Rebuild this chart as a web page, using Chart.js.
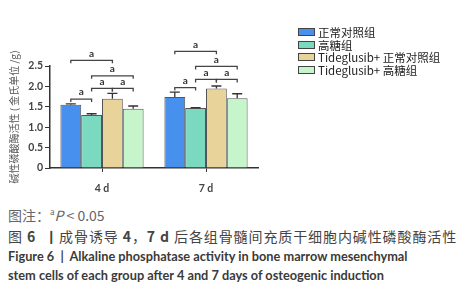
<!DOCTYPE html>
<html>
<head>
<meta charset="utf-8">
<script src="https://cdn.jsdelivr.net/npm/chart.js@4"></script>
<style>
    body { margin: 0; width: 467px; height: 300px; background: #fff; position: relative; overflow: hidden; font-family: "Noto Sans CJK SC", "Lato", sans-serif; }
    #wrap { position: absolute; left: 0; top: 0; width: 467px; height: 200px; }
    #legend { position: absolute; left: 298px; top: 26px; font-size: 11.5px; color: #222; }
    .row { height: 12.5px; line-height: 12.5px; display: flex; align-items: center; white-space: nowrap; }
    .box { width: 15px; height: 6px; border: 1.5px solid #444; margin-right: 3px; }
    .cap { position: absolute; left: 8px; white-space: nowrap; }
    .cn { color: #666; font-size: 14px; }
    .cn2 { color: #444; font-size: 14px; letter-spacing: 0.9px; }
    .en { color: #3a3a3a; font-size: 12.75px; font-weight: bold; font-family: "Lato", sans-serif; }
</style>
</head>
<body>
<div id="wrap"><canvas id="almChart" width="467" height="200"></canvas></div>
<div id="legend"></div>
<div class="cap cn" style="top:205px">图注：<sup style="font-size:8px">a</sup><i>P</i> &lt; 0.05</div>
<div class="cap cn2" style="top:226px">图 <b>6</b> &nbsp;<b>丨</b>成骨诱导 <b>4</b>，<b>7 d</b> 后各组骨髓间充质干细胞内碱性磷酸酶活性</div>
<div class="cap en" style="top:248px">Figure 6 &nbsp;| &nbsp;Alkaline phosphatase activity in bone marrow mesenchymal</div>
<div class="cap en" style="top:267px">stem cells of each group after 4 and 7 days of osteogenic induction</div>
<script>
const days = ['4 d', '7 d'];
const groups = ['正常对照组', '高糖组', 'Tideglusib+ 正常对照组', 'Tideglusib+ 高糖组'];
const normalVals = [1.55, 1.74];
const highVals = [1.30, 1.47];
const tideNormalVals = [1.70, 1.95];
const tideHighVals = [1.45, 1.71];
const normalErr = [0.02, 0.12];
const highErr = [0.03, 0.01];
const tideNormalErr = [0.13, 0.06];
const tideHighErr = [0.07, 0.11];
const groupColors = ['#4790ee', '#7bd9c0', '#e8d39b', '#c7f5cb'];

// significance brackets: [day index, group a, group b, height]
const brackets = [
    [0, 0, 1, 1.69], [0, 1, 2, 1.95], [0, 2, 3, 1.95], [0, 1, 3, 2.26], [0, 0, 2, 2.64],
    [1, 0, 1, 1.97], [1, 1, 2, 2.17], [1, 2, 3, 2.17], [1, 1, 3, 2.49], [1, 0, 2, 2.86]
];

const allVals = [normalVals, highVals, tideNormalVals, tideHighVals];
const allErr = [normalErr, highErr, tideNormalErr, tideHighErr];

// legend
const legend = document.getElementById('legend');
groups.forEach((g, i) => {
    const row = document.createElement('div');
    row.className = 'row';
    row.innerHTML = '<span class="box" style="background:' + groupColors[i] + '"></span><span>' + g + '</span>';
    legend.appendChild(row);
});

const markPlugin = {
    id: 'marks',
    afterDatasetsDraw(chart) {
        const c = chart.ctx;
        const y = chart.scales.y;
        c.save();
        // error bars
        c.strokeStyle = '#333';
        c.lineWidth = 1.3;
        allVals.forEach((vals, di) => {
            const meta = chart.getDatasetMeta(di);
            vals.forEach((v, i) => {
                const bar = meta.data[i];
                const top = y.getPixelForValue(v + allErr[di][i]);
                const base = y.getPixelForValue(v);
                c.beginPath();
                c.moveTo(bar.x, base);
                c.lineTo(bar.x, top);
                c.moveTo(bar.x - 5, top);
                c.lineTo(bar.x + 5, top);
                c.stroke();
            });
        });
        // brackets
        c.strokeStyle = '#444';
        c.lineWidth = 1.3;
        c.fillStyle = '#333';
        c.font = 'bold 10px "Lato", sans-serif';
        c.textAlign = 'center';
        c.textBaseline = 'bottom';
        brackets.forEach(b => {
            const x1 = chart.getDatasetMeta(b[1]).data[b[0]].x;
            const x2 = chart.getDatasetMeta(b[2]).data[b[0]].x;
            const yy = y.getPixelForValue(b[3]);
            c.beginPath();
            c.moveTo(x1, yy + 3);
            c.lineTo(x1, yy);
            c.lineTo(x2, yy);
            c.lineTo(x2, yy + 3);
            c.stroke();
            c.fillText('a', (x1 + x2) / 2, yy - 2);
        });
        c.restore();
    }
};

new Chart(document.getElementById('almChart'), {
    type: 'bar',
    data: {
        labels: days,
        datasets: groups.map((g, i) => ({
            label: g,
            data: allVals[i],
            backgroundColor: groupColors[i],
            borderColor: '#555',
            borderWidth: 1
        }))
    },
    options: {
        responsive: false,
        animation: false,
        layout: { padding: { top: 66, left: 0, right: 209, bottom: 0 } },
        datasets: { bar: { categoryPercentage: 0.8, barPercentage: 1 } },
        plugins: { legend: { display: false }, tooltip: { enabled: false } },
        scales: {
            x: {
                afterFit: s => { s.height = 32; },
                grid: { offset: false, drawOnChartArea: false, tickLength: 4, color: '#333' },
                border: { color: '#333', width: 1.5 },
                ticks: { padding: 10, color: '#444', font: { size: 10.5, weight: 'bold', family: 'Lato' } }
            },
            y: {
                min: 0,
                max: 2.5,
                afterFit: s => { s.width = 50; },
                grid: { drawOnChartArea: false, tickLength: 5, color: '#333' },
                border: { color: '#333', width: 1.5 },
                ticks: {
                    stepSize: 0.5, padding: 2, color: '#444',
                    font: { size: 10.5, weight: 'bold', family: 'Lato' },
                    callback: v => v === 0 ? '0' : v.toFixed(1)
                },
                title: {
                    display: true,
                    text: '碱性磷酸酶活性 ( 金氏单位 /g)',
                    color: '#555',
                    font: { size: 10, family: '"Noto Sans CJK SC"' },
                    padding: { top: 8, bottom: 0 }
                }
            }
        }
    },
    plugins: [markPlugin]
});
</script>
</body>
</html>
